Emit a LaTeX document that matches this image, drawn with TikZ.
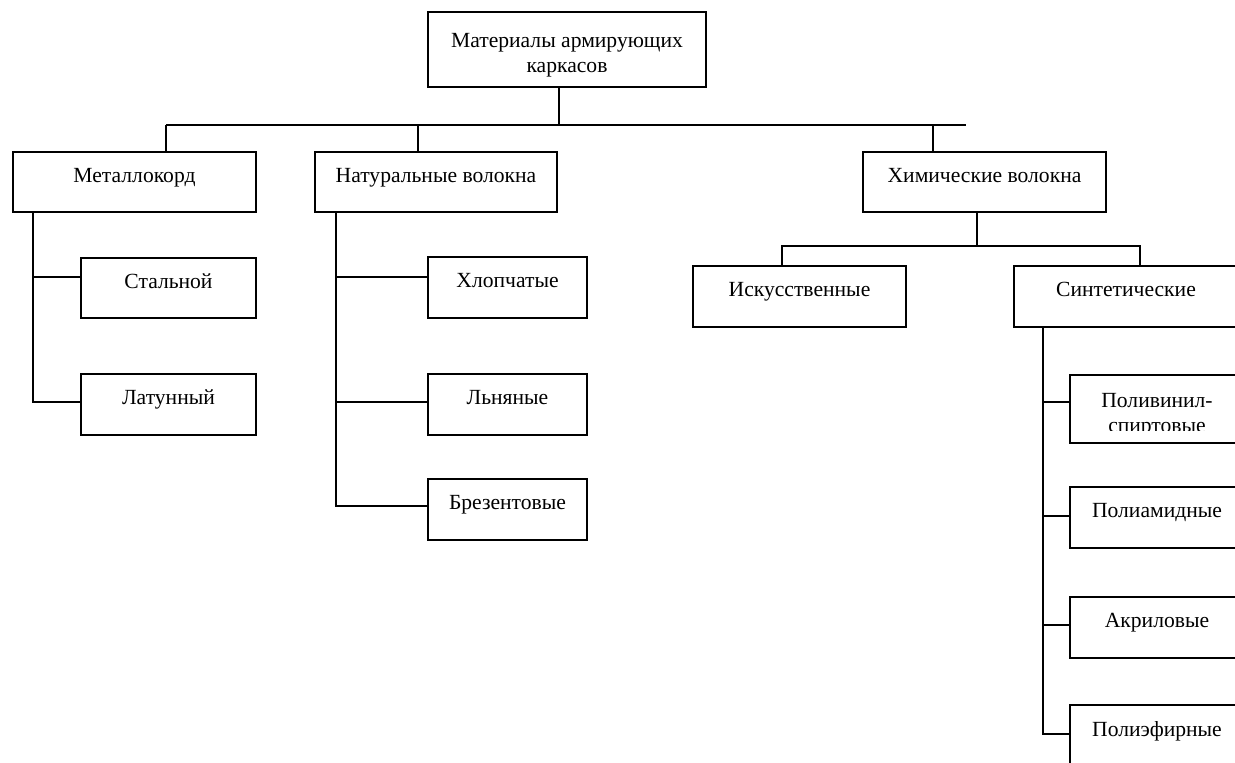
\documentclass[tikz,border=0pt]{standalone}
\usepackage{fontspec}
\setmainfont{Liberation Serif}
\usetikzlibrary{positioning}
\newcommand{\boxfont}{\fontsize{21.6}{25}\selectfont}
\tikzset{
  frame/.style={draw=black,line width=1.6pt,inner sep=0pt,fill=white,font=\boxfont},
  item/.style={frame,minimum height=60pt,text height=30pt,text depth=30pt},
  sub/.style={item,minimum width=175pt},
  link/.style={draw=black,line width=1.6pt},
}

\begin{document}
\begin{tikzpicture}[x=1pt,y=1pt]
  \useasboundingbox (0,0) rectangle (1235,-763);
  \clip (0,0) rectangle (1235,-763);
  % top level
  \node[frame,minimum width=278pt,minimum height=75pt,align=center] (root) at (567,-49.5)
    {\rule{0pt}{25.5pt}Материалы армирующих\\каркасов};
  \node[item,minimum width=243pt] (metal) at (134.5,-182) {Металлокорд};
  \node[item,minimum width=242pt] (natur) at (436,-182) {Натуральные волокна};
  \node[item,minimum width=243pt] (chem) at (984.5,-182) {Химические волокна};
  % second level
  \node[sub] (steel) at (168.5,-288) {Стальной};
  \node[sub,minimum height=61pt] (brass) at (168.5,-404.5) {Латунный};
  \foreach \n/\t/\y in {cotton/Хлопчатые/287.5,flax/Льняные/404.5,tarp/Брезентовые/509.5}{
    \node[sub,minimum width=159pt,minimum height=61pt] (\n) at (507.5,-\y) {\t};}
  \node[item,minimum width=213pt,minimum height=61pt] (artif) at (799.5,-296.5) {Искусственные};
  \node[item,minimum width=224pt,minimum height=61pt] (synth) at (1126,-296.5) {Синтетические};
  % synthetic fibres
  \node[sub,minimum width=174pt,minimum height=68pt,
    path picture={\clip (path picture bounding box.south west) ++(0,13pt)
        rectangle (path picture bounding box.north east);
      \node[anchor=north,align=center,inner sep=0pt,draw=none,fill=none,
        text height=,text depth=,minimum width=0pt,minimum height=0pt,
        font=\boxfont] (pvatext)
        at ([yshift=-18pt]path picture bounding box.north) {Поливинил-\\спиртовые};}]
    (pva) at (1157,-409) {};
  \node[sub,minimum width=174pt,minimum height=61pt] (pa) at (1157,-517.5) {Полиамидные};
  \node[sub,minimum width=174pt,minimum height=61pt] (acr) at (1157,-627.5) {Акриловые};
  \node[sub,minimum width=174pt,minimum height=62pt] (pes) at (1157,-736) {Полиэфирные};

  % bus under the root
  \coordinate (rootfoot) at (559,-125);
  \draw[link] (root.south -| rootfoot) -- (rootfoot);
  \draw[link] (166,-125) -- (966,-125);
  \foreach \n/\x in {metal/166,natur/418,chem/933}{
    \draw[link] (\x,-125) -- (\n.north -| \x,0);}
  % chemical fibres
  \coordinate (chemfoot) at (977,-246);
  \draw[link] (chem.south -| chemfoot) -- (chemfoot);
  \draw[link] (artif.north -| 782,0) |- (1140,-246) -- (synth.north -| 1140,0);
  % trunks with side branches
  \draw[link] (metal.south -| 33,0) |- (brass.west |- 0,-402);
  \draw[link] (33,-277) -- (steel.west |- 0,-277);
  \draw[link] (natur.south -| 336,0) |- (tarp.west |- 0,-506);
  \foreach \n/\y in {cotton/277,flax/402}{
    \draw[link] (336,-\y) -- (\n.west |- 0,-\y);}
  \draw[link] (synth.south -| 1043,0) |- (pes.west |- 0,-734);
  \foreach \n/\y in {pva/402,pa/516,acr/625}{
    \draw[link] (1043,-\y) -- (\n.west |- 0,-\y);}
\end{tikzpicture}
\end{document}
